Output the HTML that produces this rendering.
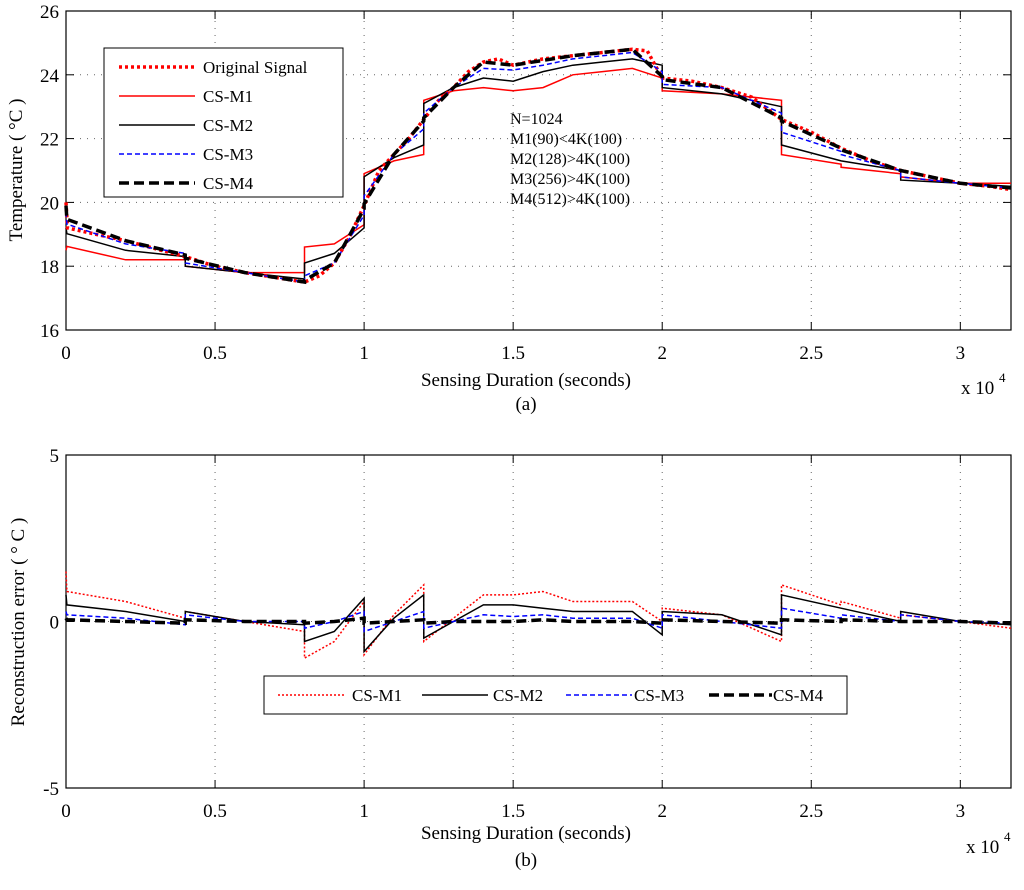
<!DOCTYPE html>
<html><head><meta charset="utf-8">
<style>
body{margin:0;background:#fff;}
svg{display:block;font-family:"Liberation Serif",serif;}
</style></head>
<body>
<svg id="fig" width="1024" height="890" viewBox="0 0 1024 890" xmlns="http://www.w3.org/2000/svg"></svg>
<script>
// ---- data ----
const origT = [0,0.005,0.1,0.2,0.3,0.4,0.5,0.6,0.7,0.8,0.85,0.9,0.95,1.0,1.05,1.1,1.15,1.2,1.25,1.3,1.35,1.4,1.45,1.5,1.6,1.7,1.8,1.9,1.95,2.0,2.1,2.2,2.3,2.4,2.5,2.6,2.7,2.8,2.9,3.0,3.1,3.17];
const origV = [20.0,19.2,19.0,18.8,18.55,18.3,18.0,17.8,17.65,17.5,17.7,18.1,18.9,19.9,21.0,21.5,22.0,22.6,23.2,23.6,24.1,24.4,24.5,24.3,24.5,24.6,24.7,24.8,24.75,23.9,23.8,23.6,23.3,22.6,22.2,21.7,21.3,21.0,20.8,20.6,20.5,20.4];
const errT = [0,0.003,0.2,0.4,0.4001,0.6,0.8,0.8001,0.9,1.0,1.0001,1.1,1.2,1.2001,1.3,1.4,1.5,1.6,1.7,1.8,1.9,2.0,2.0001,2.2,2.4,2.4001,2.6,2.6001,2.8,2.8001,3.0,3.17];
const errM1 = [1.5,0.9,0.6,0.1,0.3,0.0,-0.3,-1.1,-0.6,0.6,-1.0,0.2,1.1,-0.6,0.1,0.8,0.8,0.9,0.6,0.6,0.6,0.0,0.4,0.2,-0.6,1.1,0.5,0.6,0.1,0.2,0.0,-0.2];
const errM2 = [0.8,0.5,0.3,0.0,0.3,0.0,-0.1,-0.6,-0.3,0.7,-0.9,0.1,0.8,-0.5,0.0,0.5,0.5,0.4,0.3,0.3,0.3,-0.4,0.3,0.2,-0.4,0.8,0.4,0.4,0.0,0.3,0.0,-0.1];
const errM3 = [0.3,0.2,0.1,-0.1,0.2,0.0,0.0,-0.2,0.0,0.3,-0.3,0.0,0.3,-0.2,0.0,0.2,0.15,0.2,0.1,0.1,0.1,-0.2,0.2,0.0,-0.2,0.4,0.1,0.2,0.0,0.2,0.0,-0.05];
const errM4 = [0.1,0.05,0.0,-0.05,0.05,0.0,0.0,-0.05,0.0,0.1,-0.05,0.0,0.05,-0.05,0.0,0.0,0.0,0.05,0.0,0.0,0.0,-0.05,0.05,0.0,-0.05,0.05,0.0,0.05,0.0,0.0,0.0,-0.05];
const xTicks = [0,0.5,1,1.5,2,2.5,3];
const xTickLabels = ["0","0.5","1","1.5","2","2.5","3"];
const topYTicks = [16,18,20,22,24,26];
const botYTicks = [-5,0,5];

const NS="http://www.w3.org/2000/svg";
const svg=document.getElementById('fig');
function mk(tag,attrs,parent){const e=document.createElementNS(NS,tag);for(const k in attrs)e.setAttribute(k,attrs[k]);(parent||svg).appendChild(e);return e;}
function interp(xs,ys,x){for(let i=1;i<xs.length;i++){if(x<=xs[i]){const f=(x-xs[i-1])/(xs[i]-xs[i-1]);return ys[i-1]+f*(ys[i]-ys[i-1]);}}return ys[ys.length-1];}

const X0=66,X1=1011,XMAX=3.17;
function sx(t){return X0+t/XMAX*(X1-X0);}
const topAx={y0:330,y1:11,min:16,max:26};
const botAx={y0:788,y1:455,min:-5,max:5};
function syF(a){return v=>a.y0+(v-a.min)/(a.max-a.min)*(a.y1-a.y0);}
const syT=syF(topAx), syB=syF(botAx);

function axes(a,sy,yt,pre){
  const g=mk('g',{});
  
  
  xTicks.forEach((t,i)=>{
    const x=sx(t);
    if(t>0){const gl=mk('line',{x1:x,x2:x,y1:a.y0,y2:a.y1,stroke:'#666','stroke-width':1,'stroke-dasharray':'1,6'},g);
      }
    mk('line',{x1:x,x2:x,y1:a.y0,y2:a.y0-8,stroke:'#000'},g);
    mk('line',{x1:x,x2:x,y1:a.y1,y2:a.y1+8,stroke:'#000'},g);
    const tx=mk('text',{x:x,y:a.y0+29,'font-size':19,'text-anchor':'middle'},g);
    tx.textContent=xTickLabels[i];
    
  });
  yt.forEach(v=>{
    const y=sy(v);
    if(v>a.min&&v<a.max){const gl=mk('line',{x1:X0,x2:X1,y1:y,y2:y,stroke:'#666','stroke-width':1,'stroke-dasharray':'1,6'},g);
      }
    mk('line',{x1:X0,x2:X0+8,y1:y,y2:y,stroke:'#000'},g);
    mk('line',{x1:X1,x2:X1-8,y1:y,y2:y,stroke:'#000'},g);
    const tx=mk('text',{x:X0-7,y:y+7,'font-size':19,'text-anchor':'end'},g);
    tx.textContent=String(v);
    
  });
  const r=mk('rect',{x:X0,y:a.y1,width:X1-X0,height:a.y0-a.y1,fill:'none',stroke:'#000','stroke-width':1.2},g);
  
}
axes(topAx,syT,topYTicks,'top');
axes(botAx,syB,botYTicks,'bottom');

function path(ts,vs,sy,style,name){
  let d='';ts.forEach((t,i)=>{d+=(i?'L':'M')+sx(t).toFixed(1)+','+sy(vs[i]).toFixed(1);});
  const p=mk('path',Object.assign({d:d,fill:'none'},style));
  
  
}
const stM1={stroke:'#f00','stroke-width':1.5};
const stM2={stroke:'#000','stroke-width':1.5};
const stM3={stroke:'#00f','stroke-width':1.5,'stroke-dasharray':'5,3'};
const stM4={stroke:'#000','stroke-width':3.5,'stroke-dasharray':'10,5'};
const stOr={stroke:'#f00','stroke-width':3.5,'stroke-dasharray':'3,3'};
function recon(err){return errT.map((t,i)=>interp(origT,origV,t)-err[i]);}
path(errT,recon(errM1),syT,stM1,'top-cs-m1-line');
path(errT,recon(errM2),syT,stM2,'top-cs-m2-line');
path(origT,origV,syT,stOr,'top-original-signal-line');
path(errT,recon(errM3),syT,stM3,'top-cs-m3-line');
path(errT,recon(errM4),syT,stM4,'top-cs-m4-line');

path(errT,errM1,syB,Object.assign({},stM1,{'stroke-dasharray':'2,2'}),'bottom-cs-m1-line');
path(errT,errM2,syB,stM2,'bottom-cs-m2-line');
path(errT,errM3,syB,stM3,'bottom-cs-m3-line');
path(errT,errM4,syB,stM4,'bottom-cs-m4-line');

function text(x,y,s,size,name,anchor,rot){
  const t=mk('text',{x:x,y:y,'font-size':size,'text-anchor':anchor||'start'});
  if(rot)t.setAttribute('transform','rotate(-90 '+x+' '+y+')');
  t.textContent=s;
  
  
  return t;
}
// top legend
const lg=mk('rect',{x:104,y:48,width:239,height:149,fill:'#fff',stroke:'#000','stroke-width':1});

const legItems=[['Original Signal',stOr],['CS-M1',stM1],['CS-M2',stM2],['CS-M3',stM3],['CS-M4',stM4]];
legItems.forEach((it,i)=>{
  const y=67+i*29;
  const l=mk('line',Object.assign({x1:119,x2:195,y1:y,y2:y},it[1]));
  
  text(203,y+6,it[0],17,'top-legend-entry');
});
['N=1024','M1(90)<4K(100)','M2(128)>4K(100)','M3(256)>4K(100)','M4(512)>4K(100)'].forEach((s,i)=>text(510,124+i*20,s,16,'annotation-line'));

// bottom legend
const lb=mk('rect',{x:264,y:676,width:583,height:38,fill:'#fff',stroke:'#000','stroke-width':1});

const bl=[['CS-M1',Object.assign({},stM1,{'stroke-dasharray':'2,2'}),278,345,352],['CS-M2',stM2,422,488,493],['CS-M3',stM3,566,632,634],['CS-M4',stM4,709,772,773]];
bl.forEach(it=>{
  const l=mk('line',Object.assign({x1:it[2],x2:it[3],y1:695,y2:695},it[1]));
  
  text(it[4],701,it[0],17,'bottom-legend-entry');
});

// labels
text(526,386,'Sensing Duration (seconds)',19,'top-x-axis-title','middle');
text(526,410,'(a)',19,'top-caption','middle');
text(22,170,'Temperature ( °C )',19,'top-y-axis-title','middle',true);
text(961,394,'x 10',19,'top-x-multiplier');
text(999,382,'4',13,'top-x-exponent');
text(526,839,'Sensing Duration (seconds)',19,'bottom-x-axis-title','middle');
text(526,866,'(b)',19,'bottom-caption','middle');
text(24,622,'Reconstruction error ( ° C   )',19,'bottom-y-axis-title','middle',true);
text(966,853,'x 10',19,'bottom-x-multiplier');
text(1004,841,'4',13,'bottom-x-exponent');
</script>
</body></html>
